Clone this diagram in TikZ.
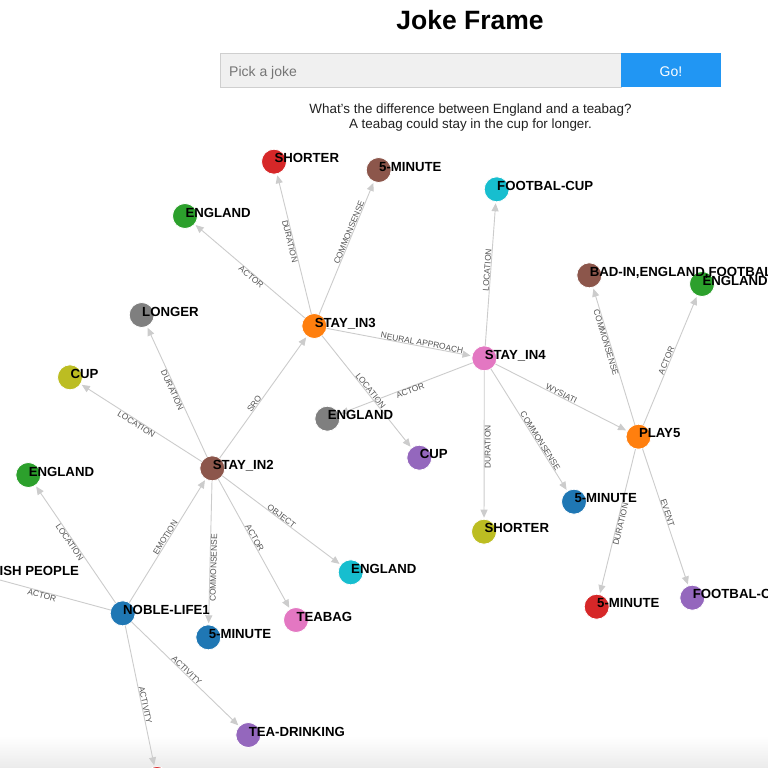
\documentclass[tikz,border=0pt]{standalone}
\usepackage{fontspec}
\setmainfont{Liberation Sans}
\usetikzlibrary{arrows.meta}
\definecolor{dblue}{HTML}{1F77B4}
\definecolor{dorange}{HTML}{FF7F0E}
\definecolor{dgreen}{HTML}{2CA02C}
\definecolor{dred}{HTML}{D62728}
\definecolor{dpurple}{HTML}{9467BD}
\definecolor{dbrown}{HTML}{8C564B}
\definecolor{dpink}{HTML}{E377C2}
\definecolor{dgray}{HTML}{7F7F7F}
\definecolor{dolive}{HTML}{BCBD22}
\definecolor{dcyan}{HTML}{17BECF}
\definecolor{edgecol}{HTML}{CCCCCC}
\definecolor{elabcol}{HTML}{555555}
\definecolor{boxfill}{HTML}{F0F0F0}
\definecolor{boxline}{HTML}{CFCFCF}
\definecolor{btnblue}{HTML}{2196F3}
\definecolor{phcol}{HTML}{757575}
\tikzset{
  dot/.style={circle, minimum size=25pt, inner sep=0pt, outer sep=0pt, draw=white, line width=0.8pt},
  vlab/.style={anchor=base west, inner sep=0pt, xshift=0.3pt, yshift=-1pt, font=\bfseries\fontsize{13.2}{15}\selectfont},
  edge/.style={draw=edgecol, line width=0.9pt, shorten >=1.5pt, -{Triangle[length=8pt,width=7pt]}},
  elab/.style={sloped, inner sep=0.4pt, text=elabcol, font=\fontsize{8.4}{9}\selectfont}
}
\newcommand\lnk[5]{\draw[edge] (#1) -- (#2);
  \path (#1.center) -- (#2.center) node[elab, pos=#3, anchor=#4] {#5};}
\begin{document}
\begin{tikzpicture}[x=1pt,y=-1pt]
\useasboundingbox (0,0) rectangle (768,768);
\clip (0,0) rectangle (768,768);
\fill[white] (0,0) rectangle (768,768);
\shade[top color=white, bottom color=black!8] (0,736) rectangle (768,768);

% header
\node[anchor=base, inner sep=0pt, font=\bfseries\fontsize{26.5}{30}\selectfont] (title) at (470,30) {Joke Frame};
\node[draw=boxline, fill=boxfill, line width=0.8pt, anchor=north west, minimum width=401pt, minimum height=34pt, inner sep=0pt] (box) at (220,53) {};
\node[fill=btnblue, anchor=north west, minimum width=100pt, minimum height=34pt, inner sep=0pt] (btn) at (621,53) {};
\node[text=white, anchor=base, inner sep=0pt, font=\fontsize{14}{16}\selectfont] (go) at (671,76) {Go!};
\node[text=phcol, anchor=base west, inner sep=0pt, font=\fontsize{14}{16}\selectfont] (ph) at (229,76) {Pick a joke};
\node[text=black!87, anchor=base, inner sep=0pt, font=\fontsize{13.4}{15}\selectfont] (q1) at (470.5,113.5) {What{\char"0027}s the difference between England and a teabag?};
\node[text=black!87, anchor=base, inner sep=0pt, font=\fontsize{13.4}{15}\selectfont] (q2) at (470.5,128) {A teabag could stay in the cup for longer.};

% vertices
\node[dot, fill=dred] (sh1) at (274,161.7) {};
\node[dot, fill=dbrown] (m1) at (378.7,170) {};
\node[dot, fill=dgreen] (en1) at (185,216) {};
\node[dot, fill=dorange] (s3) at (314.3,326) {};
\node[dot, fill=dcyan] (fc1) at (496.7,189.3) {};
\node[dot, fill=dgray] (lo) at (141.7,315) {};
\node[dot, fill=dolive] (cu1) at (70,377.3) {};
\node[dot, fill=dpink] (s4) at (484.3,358.3) {};
\node[dot, fill=dbrown] (bad) at (589.3,275.3) {};
\node[dot, fill=dgreen] (en2) at (702,284) {};
\node[dot, fill=dgray] (en3) at (327.3,418.7) {};
\node[dot, fill=dpurple] (cu2) at (419.3,457.7) {};
\node[dot, fill=dorange] (p5) at (638.5,436.7) {};
\node[dot, fill=dbrown] (s2) at (212.3,468.3) {};
\node[dot, fill=dgreen] (en4) at (28.3,475) {};
\node[dot, fill=dblue] (m2) at (574,501.7) {};
\node[dot, fill=dolive] (sh2) at (484,531.7) {};
\node[dot, fill=dcyan] (en5) at (350.7,572.3) {};
\node[dot, fill=dgray] (br) at (-37,570) {};
\node[dot, fill=dblue] (nl) at (122.7,613.3) {};
\node[dot, fill=dblue] (m3) at (208.3,637.3) {};
\node[dot, fill=dpink] (tb) at (296,620) {};
\node[dot, fill=dred] (m4) at (596.7,606.7) {};
\node[dot, fill=dpurple] (fc2) at (692.3,597.7) {};
\node[dot, fill=dpurple] (td) at (248.3,735) {};
\node[dot, fill=dred] (rb) at (157,779) {};

% edges
\lnk{s3}{sh1}{0.52}{north}{DURATION}
\lnk{s3}{m1}{0.59}{south}{COMMONSENSE}
\lnk{s3}{en1}{0.47}{north}{ACTOR}
\lnk{s3}{s4}{0.63}{south}{NEURAL APPROACH}
\lnk{s3}{cu2}{0.51}{south}{LOCATION}
\lnk{s2}{s3}{0.44}{south}{SRO}
\lnk{s2}{lo}{0.52}{north}{DURATION}
\lnk{s2}{cu1}{0.52}{north}{LOCATION}
\lnk{s2}{en5}{0.485}{south}{OBJECT}
\lnk{s2}{tb}{0.47}{south}{ACTOR}
\lnk{s2}{m3}{0.59}{north}{COMMONSENSE}
\lnk{nl}{s2}{0.51}{south}{EMOTION}
\lnk{nl}{en4}{0.53}{north}{LOCATION}
\lnk{nl}{br}{0.5}{north}{ACTOR}
\lnk{nl}{td}{0.49}{south}{ACTIVITY}
\lnk{nl}{rb}{0.56}{south}{ACTIVITY}
\lnk{s4}{fc1}{0.52}{south}{LOCATION}
\lnk{s4}{en3}{0.48}{north}{ACTOR}
\lnk{s4}{sh2}{0.51}{north}{DURATION}
\lnk{s4}{m2}{0.59}{south}{COMMONSENSE}
\lnk{s4}{p5}{0.49}{south}{WYSIATI}
\lnk{p5}{bad}{0.59}{north}{COMMONSENSE}
\lnk{p5}{en2}{0.49}{south}{ACTOR}
\lnk{p5}{m4}{0.51}{north}{DURATION}
\lnk{p5}{fc2}{0.48}{south}{EVENT}

% vertex labels
\node[vlab] (tsh1) at (sh1.center) {SHORTER};
\node[vlab] (tm1) at (m1.center) {5-MINUTE};
\node[vlab] (ten1) at (en1.center) {ENGLAND};
\node[vlab] (ts3) at (s3.center) {STAY\_IN3};
\node[vlab] (tfc1) at (fc1.center) {FOOTBAL-CUP};
\node[vlab] (tlo) at (lo.center) {LONGER};
\node[vlab] (tcu1) at (cu1.center) {CUP};
\node[vlab] (ts4) at (s4.center) {STAY\_IN4};
\node[vlab] (tbad) at (bad.center) {BAD-IN,ENGLAND,FOOTBAL};
\node[vlab] (ten2) at (en2.center) {ENGLAND};
\node[vlab] (ten3) at (en3.center) {ENGLAND};
\node[vlab] (tcu2) at (cu2.center) {CUP};
\node[vlab] (tp5) at (p5.center) {PLAY5};
\node[vlab] (ts2) at (s2.center) {STAY\_IN2};
\node[vlab] (ten4) at (en4.center) {ENGLAND};
\node[vlab] (tm2) at (m2.center) {5-MINUTE};
\node[vlab] (tsh2) at (sh2.center) {SHORTER};
\node[vlab] (ten5) at (en5.center) {ENGLAND};
\node[anchor=base west, inner sep=0pt, font=\bfseries\fontsize{13.2}{15}\selectfont] (tbr) at (-0.5,575.7) {ISH PEOPLE};
\node[vlab] (tnl) at (nl.center) {NOBLE-LIFE1};
\node[vlab] (tm3) at (m3.center) {5-MINUTE};
\node[vlab] (ttb) at (tb.center) {TEABAG};
\node[vlab] (tm4) at (m4.center) {5-MINUTE};
\node[vlab] (tfc2) at (fc2.center) {FOOTBAL-C};
\node[vlab] (ttd) at (td.center) {TEA-DRINKING};
\end{tikzpicture}
\end{document}
